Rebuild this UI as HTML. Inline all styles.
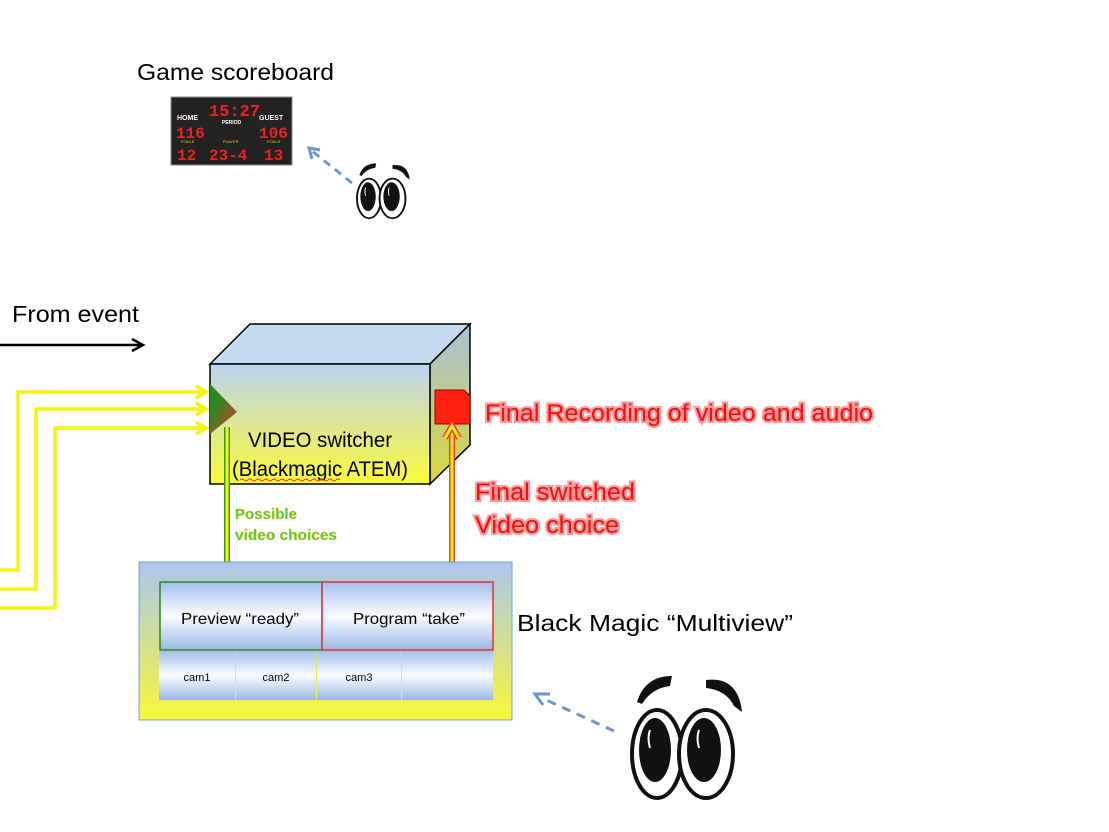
<!DOCTYPE html>
<html><head><meta charset="utf-8"><style>
html,body{margin:0;padding:0;background:#fff;}
svg{display:block;font-family:"Liberation Sans",sans-serif;}
.glowR{fill:#f01010;paint-order:stroke;stroke:#f99;stroke-width:4px;}
</style></head><body>
<svg width="1109" height="832" viewBox="0 0 1109 832" xmlns="http://www.w3.org/2000/svg">
<defs>
<linearGradient id="bx" x1="0" y1="0" x2="0" y2="1">
<stop offset="0" stop-color="#bcd3f0"/><stop offset="1" stop-color="#fbfb3a"/></linearGradient>
<linearGradient id="bx2" x1="0" y1="0" x2="0" y2="1">
<stop offset="0" stop-color="#a9bfd9"/><stop offset="1" stop-color="#d8d83a"/></linearGradient>
<linearGradient id="mv" x1="0" y1="0" x2="0" y2="1">
<stop offset="0" stop-color="#aac6ee"/><stop offset="1" stop-color="#f8f83a"/></linearGradient>
<linearGradient id="pn" x1="0" y1="0" x2="0" y2="1">
<stop offset="0" stop-color="#a4c0ec"/><stop offset="0.5" stop-color="#fafcff"/><stop offset="1" stop-color="#9ab8e6"/></linearGradient>
<linearGradient id="tri" x1="0" y1="0" x2="1" y2="1">
<stop offset="0.3" stop-color="#2a8a20"/><stop offset="1" stop-color="#d33"/></linearGradient>
<g id="eyes">
<path d="M637 702 Q645 676 672 676 L670 686 Q652 688 642 704 Z" fill="#111"/>
<path d="M706 680 Q738 676 742 712 L734 706 Q726 690 706 688 Z" fill="#111"/>
<ellipse cx="657" cy="754" rx="25" ry="44" fill="#fff" stroke="#111" stroke-width="4"/>
<ellipse cx="706" cy="754" rx="27" ry="44" fill="#fff" stroke="#111" stroke-width="4"/>
<ellipse cx="655" cy="750" rx="16" ry="32" fill="#111"/>
<ellipse cx="704" cy="750" rx="17" ry="32" fill="#111"/>
<path d="M650 730 Q647 738 650 748" stroke="#fff" stroke-width="2" fill="none"/>
<path d="M699 730 Q696 738 699 748" stroke="#fff" stroke-width="2" fill="none"/>
</g>
</defs>

<text x="137" y="80" font-size="23" fill="#000" textLength="197" lengthAdjust="spacingAndGlyphs">Game scoreboard</text>
<rect x="171" y="97" width="121" height="68" fill="#222" stroke="#888" stroke-width="1"/>
<g font-family="Liberation Mono,monospace" fill="#e22" font-weight="bold">
<text x="209" y="116" font-size="17">15:27</text>
<text x="176" y="138" font-size="16">116</text>
<text x="259" y="138" font-size="16">106</text>
<text x="177" y="160" font-size="16">12</text>
<text x="209" y="160" font-size="16">23-4</text>
<text x="264" y="160" font-size="16">13</text>
</g>
<g fill="#fff" font-size="7" font-weight="bold"><text x="177" y="120">HOME</text><text x="259" y="120">GUEST</text><text x="222" y="124" font-size="5">PERIOD</text></g>
<g fill="#dd3" font-size="4"><text x="181" y="143">FOULS</text><text x="223" y="143">PLAYER</text><text x="267" y="143">FOULS</text></g>
<line x1="352" y1="183" x2="312" y2="151" stroke="#6d96cc" stroke-width="3" stroke-dasharray="8,6"/>
<path d="M320 150 L309 148 L312 159" stroke="#6d96cc" stroke-width="3" fill="none"/>
<use href="#eyes" transform="translate(357 162) scale(0.48 0.45) translate(-632 -673)"/>

<text x="12" y="322" font-size="23" fill="#000" textLength="127" lengthAdjust="spacingAndGlyphs">From event</text>
<line x1="0" y1="345" x2="142" y2="345" stroke="#000" stroke-width="2.5"/>
<path d="M132 339 L143 345 L132 351" stroke="#000" stroke-width="2.5" fill="none"/>

<g stroke="#f4f410" stroke-width="3.5" fill="none">
<polyline points="0,570 18,570 18,392 205,392"/>
<polyline points="0,589 36,589 36,409 205,409"/>
<polyline points="0,608 55,608 55,428 205,428"/>
<path d="M196 386 L206 392 L196 398 M196 403 L206 409 L196 415 M196 422 L206 428 L196 434"/>
</g>

<polygon points="210,364 250,324 470,324 430,364" fill="#c4d8ee" stroke="#000" stroke-width="1.5"/>
<polygon points="430,364 470,324 470,445 430,484" fill="url(#bx2)" stroke="#000" stroke-width="1.5"/>
<rect x="210" y="364" width="220" height="120" fill="url(#bx)" stroke="#000" stroke-width="1.5"/>
<polygon points="210,384 237,412 210,434" fill="url(#tri)"/>
<polygon points="435,390 464,390 470,396 470,424 435,424" fill="#f21" stroke="#900" stroke-width="1"/>

<line x1="227" y1="427" x2="227" y2="576" stroke="#3a9a20" stroke-width="6"/>
<line x1="227" y1="427" x2="227" y2="576" stroke="#f4f410" stroke-width="3"/>
<path d="M220 566 L227 578 L234 566" stroke="#3a9a20" stroke-width="6" fill="none"/>
<path d="M220 566 L227 578 L234 566" stroke="#f4f410" stroke-width="3" fill="none"/>

<text x="320" y="447" font-size="21" text-anchor="middle" fill="#000" textLength="144" lengthAdjust="spacingAndGlyphs">VIDEO switcher</text>
<text x="320" y="476" font-size="21" text-anchor="middle" fill="#000" textLength="176" lengthAdjust="spacingAndGlyphs">(Blackmagic ATEM)</text>
<path d="M240 480 q2 -2 4 0 t4 0 t4 0 t4 0 t4 0 t4 0 t4 0 t4 0 t4 0 t4 0 t4 0 t4 0 t4 0 t4 0 t4 0 t4 0 t4 0 t4 0 t4 0 t4 0 t4 0 t4 0 t4 0 t4 0 t4 0" stroke="#e33" stroke-width="1" fill="none"/>

<text x="485" y="421" font-size="24" class="glowR" textLength="388" lengthAdjust="spacingAndGlyphs">Final Recording of video and audio</text>
<text x="475" y="500" font-size="24" class="glowR" textLength="160" lengthAdjust="spacingAndGlyphs">Final switched</text>
<text x="475" y="533" font-size="24" class="glowR" textLength="144" lengthAdjust="spacingAndGlyphs">Video choice</text>

<text x="235" y="519" font-size="15" fill="#5c2" font-weight="bold" stroke="#cc4" stroke-width="0.4" textLength="62" lengthAdjust="spacingAndGlyphs">Possible</text>
<text x="235" y="540" font-size="15" fill="#5c2" font-weight="bold" stroke="#cc4" stroke-width="0.4" textLength="102" lengthAdjust="spacingAndGlyphs">video choices</text>

<line x1="452" y1="583" x2="452" y2="428" stroke="#f33" stroke-width="6"/>
<line x1="452" y1="583" x2="452" y2="428" stroke="#f4f410" stroke-width="3"/>
<path d="M445 438 L452 426 L459 438" stroke="#f33" stroke-width="6" fill="none"/>
<path d="M445 438 L452 426 L459 438" stroke="#f4f410" stroke-width="3" fill="none"/>

<rect x="139" y="562" width="373" height="158" fill="url(#mv)" stroke="#7a9fd0" stroke-width="1"/>
<rect x="160" y="582" width="162" height="68" fill="url(#pn)" stroke="#2a8a20" stroke-width="1.5"/>
<rect x="322" y="582" width="171" height="68" fill="url(#pn)" stroke="#d33" stroke-width="1.5"/>
<rect x="159" y="651" width="76" height="49" fill="url(#pn)"/>
<rect x="236" y="651" width="80" height="49" fill="url(#pn)"/>
<rect x="317" y="651" width="84" height="49" fill="url(#pn)"/>
<rect x="402" y="651" width="91" height="49" fill="url(#pn)"/>
<text x="240" y="624" font-size="16" text-anchor="middle" fill="#000" textLength="118" lengthAdjust="spacingAndGlyphs">Preview “ready”</text>
<text x="409" y="624" font-size="16" text-anchor="middle" fill="#000" textLength="112" lengthAdjust="spacingAndGlyphs">Program “take”</text>
<g font-size="11" text-anchor="middle" fill="#000"><text x="197" y="681">cam1</text><text x="276" y="681">cam2</text><text x="359" y="681">cam3</text></g>
<text x="517" y="631" font-size="23" fill="#000" textLength="276" lengthAdjust="spacingAndGlyphs">Black Magic “Multiview”</text>

<line x1="614" y1="731" x2="542" y2="698" stroke="#6d96cc" stroke-width="3" stroke-dasharray="9,7"/>
<path d="M550 694 L535 694 L543 705" stroke="#6d96cc" stroke-width="3" fill="none"/>
<use href="#eyes"/>
</svg>
</body></html>
